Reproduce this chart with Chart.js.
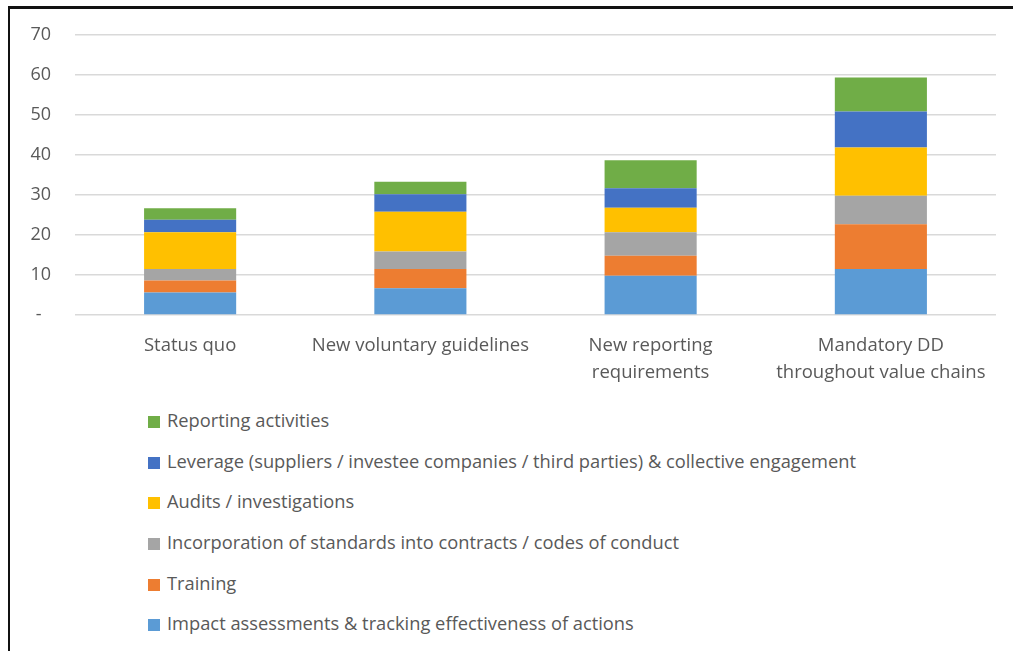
<!DOCTYPE html>
<html>
<head>
<meta charset="utf-8">
<title>Due diligence cost components by policy option</title>
<script src="https://cdn.jsdelivr.net/npm/chart.js@4.4.1/dist/chart.umd.min.js"></script>
<style>
  html, body { margin: 0; padding: 0; background: #fff; }
  body { width: 1013px; height: 651px; position: relative; overflow: hidden; font-family: "Open Sans", sans-serif; }
  .frame { position: absolute; left: 8px; top: 6px; width: 1100px; height: 700px; border-top: 3px solid #111; border-left: 2px solid #111; }
  .chart-wrap { position: absolute; left: 0; top: 0; width: 1013px; height: 392px; }
  #legend { position: absolute; left: 148px; top: 405px; margin: 0; padding: 0; list-style: none; }
  #legend li { height: 40.7px; line-height: 30px; font-size: 18.3px; color: #595959; white-space: nowrap; }
  #legend .box { display: inline-block; width: 12px; height: 12px; margin-right: 7px; vertical-align: -1px; }
</style>
</head>
<body>
<div class="frame"></div>
<div class="chart-wrap"><canvas id="costChart"></canvas></div>
<ul id="legend"></ul>

<script>
// Categories (policy options)
const categories = [
  'Status quo',
  'New voluntary guidelines',
  ['New reporting', 'requirements'],
  ['Mandatory DD', 'throughout value chains']
];

// Series values (bottom to top)
const impactAssessments = [5.6, 6.7, 9.8, 11.5];
const training = [3.0, 4.8, 5.0, 11.2];
const incorporation = [2.9, 4.4, 5.9, 7.1];
const audits = [9.2, 9.9, 6.1, 12.1];
const leverage = [3.1, 4.4, 4.9, 9.0];
const reporting = [2.9, 3.1, 7.0, 8.5];

// Y axis ticks
const yMax = 70;
const yStep = 10;

const seriesNames = [
  'Impact assessments & tracking effectiveness of actions',
  'Training',
  'Incorporation of standards into contracts / codes of conduct',
  'Audits / investigations',
  'Leverage (suppliers / investee companies / third parties) & collective engagement',
  'Reporting activities'
];
const seriesValues = [impactAssessments, training, incorporation, audits, leverage, reporting];
const seriesColors = ['#5B9BD5', '#ED7D31', '#A5A5A5', '#FFC000', '#4472C4', '#70AD47'];

const textColor = '#595959';
const fontFamily = '"Open Sans", sans-serif';

const ctx = document.getElementById('costChart').getContext('2d');

const costChart = new Chart(ctx, {
  type: 'bar',
  data: {
    labels: categories,
    datasets: seriesNames.map((name, i) => ({
      label: name,
      data: seriesValues[i],
      backgroundColor: seriesColors[i],
      borderWidth: 0,
      categoryPercentage: 1.0,
      barPercentage: 0.4
    }))
  },
  options: {
    responsive: true,
    maintainAspectRatio: false,
    animation: false,
    layout: {
      padding: { top: 35, right: 17, bottom: 0, left: 0 }
    },
    plugins: {
      legend: { display: false },
      tooltip: { enabled: false }
    },
    scales: {
      x: {
        stacked: true,
        grid: { display: false },
        border: { display: false },
        ticks: {
          color: textColor,
          font: { family: fontFamily, size: 18.5, lineHeight: 1.42 },
          padding: 10,
          maxRotation: 0,
          autoSkip: false
        },
        afterFit: function(scale) { scale.height = 77; }
      },
      y: {
        stacked: true,
        min: 0,
        max: yMax,
        grid: { color: '#D9D9D9', lineWidth: 1.5, drawTicks: false },
        border: { display: false },
        ticks: {
          stepSize: yStep,
          color: textColor,
          font: { family: fontFamily, size: 18 },
          padding: 24,
          callback: function(value) { return value === 0 ? '-  ' : value; }
        },
        afterFit: function(scale) { scale.width = 75; }
      }
    }
  }
});

// Legend below the chart, top series first (same order as the picture)
const legendEl = document.getElementById('legend');
for (let i = seriesNames.length - 1; i >= 0; i--) {
  const li = document.createElement('li');
  li.innerHTML = '<span class="box" style="background:' + seriesColors[i] + '"></span>' + seriesNames[i].replace(/&/g, '&amp;');
  legendEl.appendChild(li);
}
</script>
</body>
</html>
